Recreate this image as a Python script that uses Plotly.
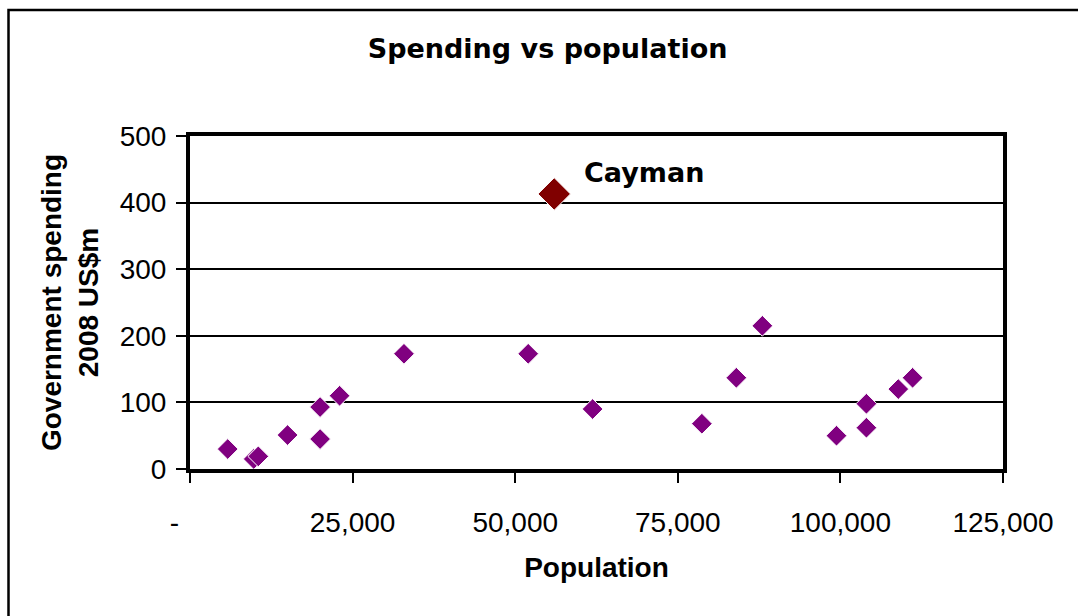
import plotly.graph_objects as go

# Population and 2008 government spending (US$m) for the smaller territories
population = [5800, 9800, 10500, 15000, 20000, 20000, 23000, 32900, 52000,
              61900, 78700, 84000, 88000, 99400, 104000, 104000, 108900, 111100]
spending = [30, 15, 19, 51, 93, 45, 110, 173, 173,
            90, 68, 137, 215, 50, 62, 98, 120, 137]

# The outlier, drawn and labelled separately
cayman_name = "Cayman"
cayman_population = [56000]
cayman_spending = [413]

x_tickvals = [0, 25000, 50000, 75000, 100000, 125000]
x_ticktext = ["-\u00a0\u00a0\u00a0\u00a0", "25,000", "50,000", "75,000", "100,000", "125,000"]
y_tickvals = [0, 100, 200, 300, 400, 500]

fig = go.Figure()

fig.add_trace(go.Scatter(
    x=population, y=spending, mode="markers",
    marker=dict(symbol="diamond", size=16, color="#800080",
                line=dict(color="white", width=1)),
    cliponaxis=False, showlegend=False,
))

fig.add_trace(go.Scatter(
    x=cayman_population, y=cayman_spending, mode="markers",
    marker=dict(symbol="diamond", size=25, color="#800000",
                line=dict(color="white", width=1)),
    cliponaxis=False, showlegend=False,
))

fig.add_annotation(
    x=cayman_population[0], y=cayman_spending[0], text=cayman_name,
    showarrow=False, xanchor="left", yanchor="middle", xshift=28, yshift=21,
    font=dict(family="DejaVu Sans", size=27, color="black", weight="bold"),
)

# Outer chart frame
fig.add_shape(
    type="rect", xref="paper", yref="paper",
    x0=(8.5 - 190) / 813, x1=1.2, y0=-0.6, y1=1 + (136 - 10) / 333,
    line=dict(color="black", width=2.5), fillcolor="rgba(0,0,0,0)", layer="below",
)

tick_font = dict(family="Liberation Sans", size=28, color="black")
title_font = dict(family="Liberation Sans", size=28, color="black", weight="bold")

fig.update_layout(
    width=1078, height=616,
    margin=dict(l=190, r=75, t=136, b=147),
    paper_bgcolor="white", plot_bgcolor="white",
    title=dict(text="Spending vs population", x=0.508, xref="container", xanchor="center",
               y=1 - 49 / 616, yref="container", yanchor="middle",
               font=dict(family="DejaVu Sans", size=27, color="black", weight="bold")),
    xaxis=dict(
        range=[0, 125000], tickvals=x_tickvals, ticktext=x_ticktext,
        showgrid=False, zeroline=False,
        showline=True, linecolor="black", linewidth=4, mirror=True,
        ticks="outside", ticklen=10, tickwidth=2, tickcolor="black",
        tickfont=tick_font, ticklabelstandoff=15,
        title=dict(text="Population", font=title_font, standoff=22),
    ),
    yaxis=dict(
        range=[0, 500], tickvals=y_tickvals,
        showgrid=True, gridcolor="black", gridwidth=2, zeroline=False,
        showline=True, linecolor="black", linewidth=4, mirror=True,
        ticks="outside", ticklen=10, tickwidth=2, tickcolor="black",
        tickfont=tick_font, ticklabelstandoff=4,
        title=dict(text="Government spending<br>2008 US$m", font=title_font, standoff=14),
    ),
)

fig.write_html("out.html")
